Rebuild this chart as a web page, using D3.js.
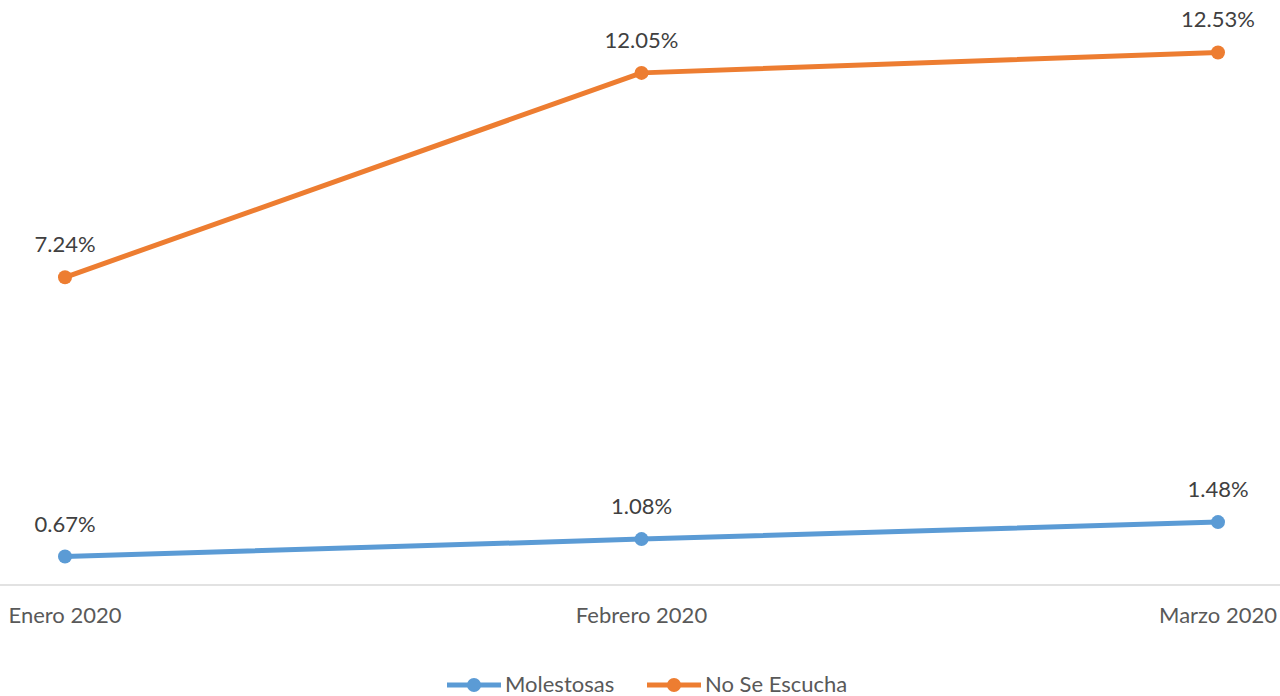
<!DOCTYPE html>
<html>
<head>
<meta charset="utf-8">
<script src="https://cdn.jsdelivr.net/npm/d3@7"></script>
<style>
  body { margin: 0; background: #fff; }
  text { font-family: Lato, "Open Sans", sans-serif; }
</style>
</head>
<body>
<div id="chart"></div>
<script>
// data
var months = ["Enero 2020", "Febrero 2020", "Marzo 2020"];
var molestosas = [0.67, 1.08, 1.48];
var noSeEscucha = [7.24, 12.05, 12.53];
var seriesNames = ["Molestosas", "No Se Escucha"];
var colors = ["#5b9bd5", "#ed7d31"];

var width = 1280, height = 696;

var svg = d3.select("#chart").append("svg")
    .attr("width", width)
    .attr("height", height);

// set the ranges
var x = d3.scalePoint().domain(months).range([65, 1218]);
var y = d3.scaleLinear().domain([0, 14]).range([585, -10]);

// baseline / x axis
svg.append("line")
    .attr("x1", 0).attr("x2", width)
    .attr("y1", y(0)).attr("y2", y(0))
    .attr("stroke", "#d9d9d9")
    .attr("stroke-width", 1.5);

svg.selectAll(".tick-label")
    .data(months)
  .enter().append("text")
    .attr("class", "tick-label")
    .attr("x", function(d) { return x(d); })
    .attr("y", 623)
    .attr("text-anchor", "middle")
    .attr("fill", "#595959")
    .style("font-size", "22px")
    .text(function(d) { return d; });

var series = [molestosas, noSeEscucha];

var valueline = d3.line()
    .x(function(d, i) { return x(months[i]); })
    .y(function(d) { return y(d); });

series.forEach(function(vals, s) {
  svg.append("path")
      .datum(vals)
      .attr("fill", "none")
      .attr("stroke", colors[s])
      .attr("stroke-width", 5)
      .attr("stroke-linejoin", "round")
      .attr("d", valueline);

  svg.selectAll(".dot" + s)
      .data(vals)
    .enter().append("circle")
      .attr("cx", function(d, i) { return x(months[i]); })
      .attr("cy", function(d) { return y(d); })
      .attr("r", 7)
      .attr("fill", colors[s]);

  svg.selectAll(".lbl" + s)
      .data(vals)
    .enter().append("text")
      .attr("x", function(d, i) { return x(months[i]); })
      .attr("y", function(d) { return y(d) - 25; })
      .attr("text-anchor", "middle")
      .attr("fill", "#404040")
      .style("font-size", "22px")
      .text(function(d) { return d.toFixed(2) + "%"; });
});

// legend
var legendX = [447, 647];
seriesNames.forEach(function(name, s) {
  var g = svg.append("g")
      .attr("transform", "translate(" + legendX[s] + ",685)");
  g.append("line")
      .attr("x1", 0).attr("x2", 54)
      .attr("y1", 0).attr("y2", 0)
      .attr("stroke", colors[s])
      .attr("stroke-width", 5);
  g.append("circle")
      .attr("cx", 27).attr("cy", 0).attr("r", 7)
      .attr("fill", colors[s]);
  g.append("text")
      .attr("x", 58).attr("y", 7)
      .attr("fill", "#595959")
      .style("font-size", "22px")
      .text(name);
});
</script>
</body>
</html>
